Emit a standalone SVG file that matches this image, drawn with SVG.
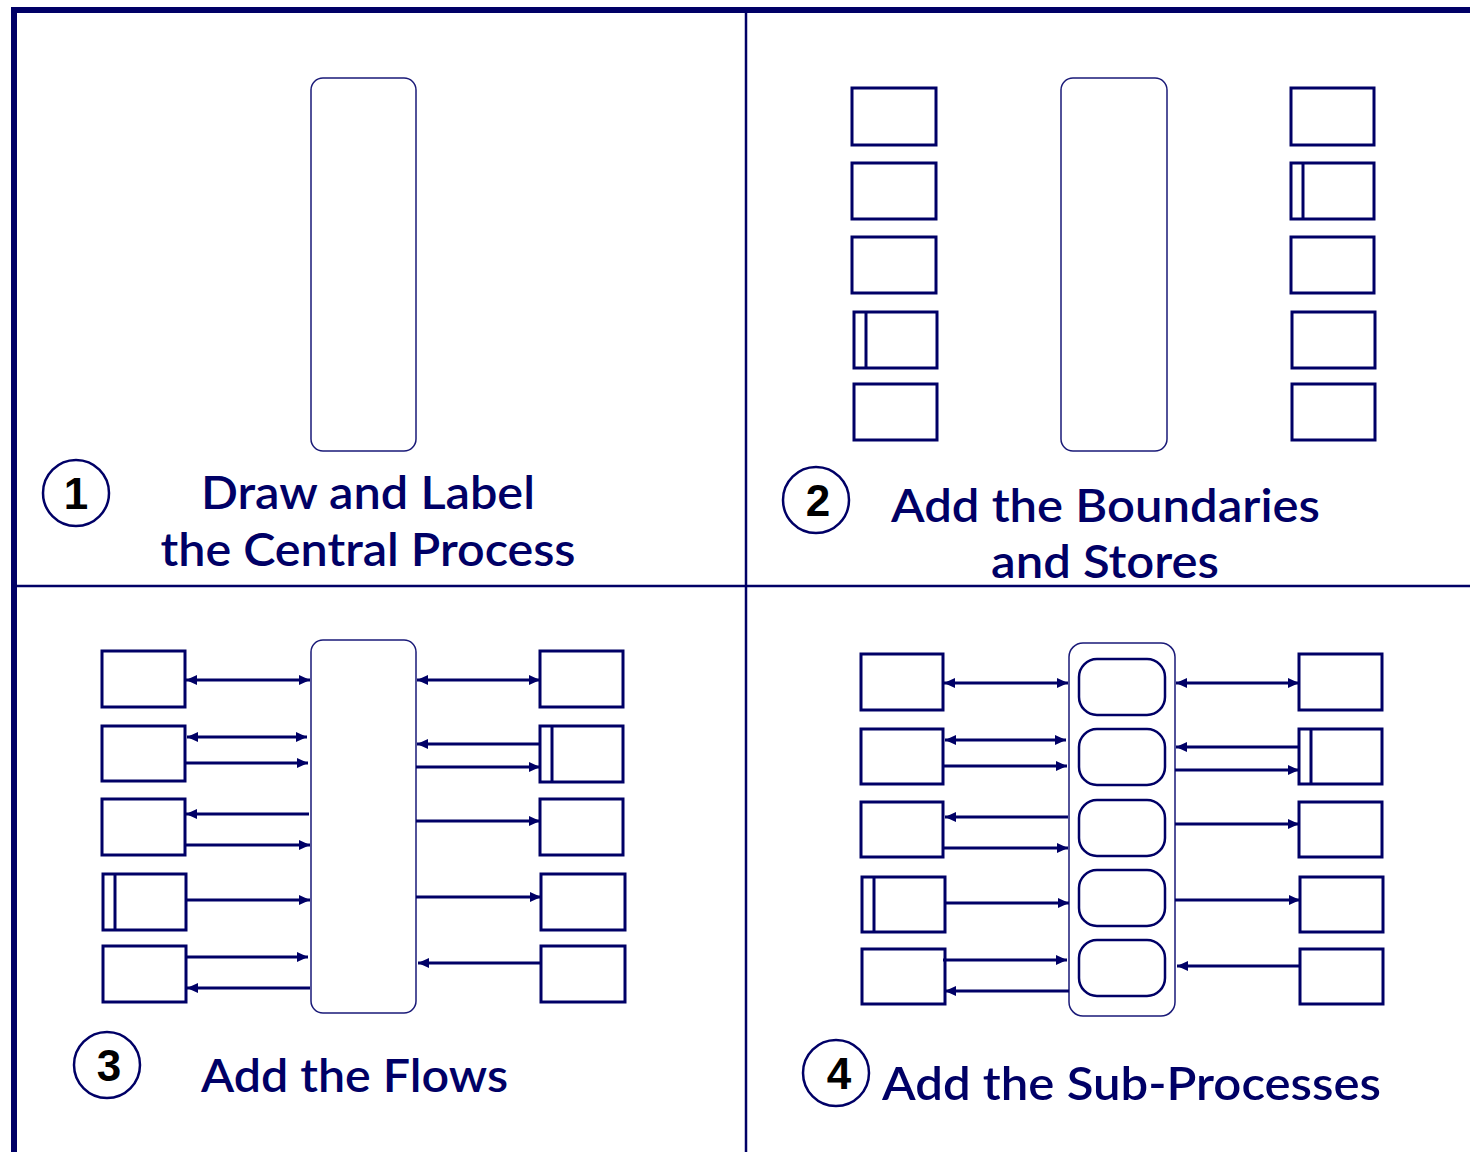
<svg xmlns="http://www.w3.org/2000/svg" width="1470" height="1152" viewBox="0 0 1470 1152">
<defs>
<style>
.frame{fill:none;stroke:#000066;stroke-width:6}
.div{stroke:#000066;stroke-width:2.5;fill:none}
.proc{fill:#fff;stroke:#1a1a78;stroke-width:1.5}
.sub{fill:#fff;stroke:#000066;stroke-width:2.5}
.box{fill:#fff;stroke:#000066;stroke-width:3}
.sl{stroke:#000066;stroke-width:3;fill:none}
.f{stroke:#000066;stroke-width:3;fill:none}
.a{marker-end:url(#ah)}
.d{marker-start:url(#ah);marker-end:url(#ah)}
.circ{fill:#fff;stroke:#000066;stroke-width:2.5}
.num{font-family:"Liberation Sans",Arial,sans-serif;font-weight:bold;font-size:44px;fill:#000;text-anchor:middle}
.t{font-family:Lato,"Open Sans",sans-serif;font-weight:600;font-size:47px;fill:#000066}
</style>
<marker id="ah" markerUnits="userSpaceOnUse" markerWidth="11" markerHeight="10" refX="11" refY="5" orient="auto-start-reverse" viewBox="0 0 11 10">
<path d="M0,0 L11,5 L0,10 z" fill="#000066"/>
</marker>
</defs>
<rect width="1470" height="1152" fill="#fff"/>
<g id="frame">
<rect class="frame" x="14" y="10" width="1500" height="1200"/>
<line class="div" x1="746" y1="10" x2="746" y2="1152"/>
<line class="div" x1="14" y1="586" x2="1470" y2="586"/>
</g>

<!-- Panel 1 -->
<g id="p1-process"><rect class="proc" x="311" y="78" width="105" height="373" rx="12"/></g>
<g id="p1-label">
<circle class="circ" cx="76" cy="493" r="33"/>
<text class="num" x="76" y="509">1</text>
<text class="t" x="368" y="509" text-anchor="middle" textLength="334" lengthAdjust="spacingAndGlyphs">Draw and Label</text>
<text class="t" x="368" y="566" text-anchor="middle" textLength="415" lengthAdjust="spacingAndGlyphs">the Central Process</text>
</g>

<!-- Panel 2 -->
<g id="p2-process"><rect class="proc" x="1061" y="78" width="106" height="373" rx="12"/></g>
<g id="p2-left">
<rect class="box" x="852" y="88" width="84" height="57"/>
<rect class="box" x="852" y="163" width="84" height="56"/>
<rect class="box" x="852" y="237" width="84" height="56"/>
<rect class="box" x="854" y="312" width="83" height="56"/><line class="sl" x1="866" y1="312" x2="866" y2="368"/>
<rect class="box" x="854" y="384" width="83" height="56"/>
</g>
<g id="p2-right">
<rect class="box" x="1291" y="88" width="83" height="57"/>
<rect class="box" x="1291" y="163" width="83" height="56"/><line class="sl" x1="1303" y1="163" x2="1303" y2="219"/>
<rect class="box" x="1291" y="237" width="83" height="56"/>
<rect class="box" x="1292" y="312" width="83" height="56"/>
<rect class="box" x="1292" y="384" width="83" height="56"/>
</g>
<g id="p2-label">
<circle class="circ" cx="816" cy="500" r="33"/>
<text class="num" x="818" y="516">2</text>
<text class="t" x="1105.5" y="522" text-anchor="middle" textLength="429" lengthAdjust="spacingAndGlyphs">Add the Boundaries</text>
<text class="t" x="1105" y="578" text-anchor="middle" textLength="228" lengthAdjust="spacingAndGlyphs">and Stores</text>
</g>

<!-- Panel 3 -->
<g id="p3-process"><rect class="proc" x="311" y="640" width="105" height="373" rx="12"/></g>
<g id="p3-left">
<rect class="box" x="102" y="651" width="83" height="56"/>
<rect class="box" x="102" y="726" width="83" height="55"/>
<rect class="box" x="102" y="799" width="83" height="56"/>
<rect class="box" x="103" y="874" width="83" height="56"/><line class="sl" x1="115" y1="874" x2="115" y2="930"/>
<rect class="box" x="103" y="946" width="83" height="56"/>
</g>
<g id="p3-right">
<rect class="box" x="540" y="651" width="83" height="56"/>
<rect class="box" x="540" y="726" width="83" height="56"/><line class="sl" x1="552" y1="726" x2="552" y2="782"/>
<rect class="box" x="540" y="799" width="83" height="56"/>
<rect class="box" x="541" y="874" width="84" height="56"/>
<rect class="box" x="541" y="946" width="84" height="56"/>
</g>
<g id="p3-flows">
<line class="f d" x1="186" y1="680" x2="310" y2="680"/>
<line class="f d" x1="187" y1="737" x2="307" y2="737"/>
<line class="f a" x1="186" y1="763" x2="308" y2="763"/>
<line class="f a" x1="309" y1="814" x2="186" y2="814"/>
<line class="f a" x1="186" y1="845" x2="310" y2="845"/>
<line class="f a" x1="187" y1="900" x2="310" y2="900"/>
<line class="f a" x1="185" y1="957" x2="308" y2="957"/>
<line class="f a" x1="310" y1="988" x2="187" y2="988"/>
<line class="f d" x1="417" y1="680" x2="540" y2="680"/>
<line class="f a" x1="540" y1="744" x2="417" y2="744"/>
<line class="f a" x1="416" y1="767" x2="540" y2="767"/>
<line class="f a" x1="416" y1="821" x2="540" y2="821"/>
<line class="f a" x1="416" y1="897" x2="541" y2="897"/>
<line class="f a" x1="541" y1="963" x2="418" y2="963"/>
</g>
<g id="p3-label">
<circle class="circ" cx="107" cy="1065" r="33"/>
<text class="num" x="109" y="1081">3</text>
<text class="t" x="201" y="1092" textLength="307" lengthAdjust="spacingAndGlyphs">Add the Flows</text>
</g>

<!-- Panel 4 -->
<g id="p4-process">
<rect class="proc" x="1069" y="643" width="106" height="373" rx="14"/>
<rect class="sub" x="1079" y="659" width="86" height="56" rx="18"/>
<rect class="sub" x="1079" y="729" width="86" height="56" rx="18"/>
<rect class="sub" x="1079" y="800" width="86" height="56" rx="18"/>
<rect class="sub" x="1079" y="870" width="86" height="56" rx="18"/>
<rect class="sub" x="1079" y="940" width="86" height="56" rx="18"/>
</g>
<g id="p4-left">
<rect class="box" x="861" y="654" width="82" height="56"/>
<rect class="box" x="861" y="729" width="82" height="55"/>
<rect class="box" x="861" y="802" width="82" height="55"/>
<rect class="box" x="862" y="877" width="83" height="55"/><line class="sl" x1="874" y1="877" x2="874" y2="932"/>
<rect class="box" x="862" y="949" width="83" height="55"/>
</g>
<g id="p4-right">
<rect class="box" x="1299" y="654" width="83" height="56"/>
<rect class="box" x="1299" y="729" width="83" height="55"/><line class="sl" x1="1311" y1="729" x2="1311" y2="784"/>
<rect class="box" x="1299" y="802" width="83" height="55"/>
<rect class="box" x="1300" y="877" width="83" height="55"/>
<rect class="box" x="1300" y="949" width="83" height="55"/>
</g>
<g id="p4-flows">
<line class="f d" x1="944" y1="683" x2="1068" y2="683"/>
<line class="f d" x1="945" y1="740" x2="1066" y2="740"/>
<line class="f a" x1="944" y1="766" x2="1067" y2="766"/>
<line class="f a" x1="1068" y1="817" x2="945" y2="817"/>
<line class="f a" x1="944" y1="848" x2="1068" y2="848"/>
<line class="f a" x1="945" y1="903" x2="1069" y2="903"/>
<line class="f a" x1="943" y1="960" x2="1067" y2="960"/>
<line class="f a" x1="1069" y1="991" x2="945" y2="991"/>
<line class="f d" x1="1176" y1="683" x2="1299" y2="683"/>
<line class="f a" x1="1299" y1="747" x2="1176" y2="747"/>
<line class="f a" x1="1175" y1="770" x2="1299" y2="770"/>
<line class="f a" x1="1175" y1="824" x2="1299" y2="824"/>
<line class="f a" x1="1175" y1="900" x2="1300" y2="900"/>
<line class="f a" x1="1300" y1="966" x2="1177" y2="966"/>
</g>
<g id="p4-label">
<circle class="circ" cx="836" cy="1073" r="33"/>
<text class="num" x="839" y="1089">4</text>
<text class="t" x="882" y="1100" textLength="499" lengthAdjust="spacingAndGlyphs">Add the Sub-Processes</text>
</g>
</svg>
